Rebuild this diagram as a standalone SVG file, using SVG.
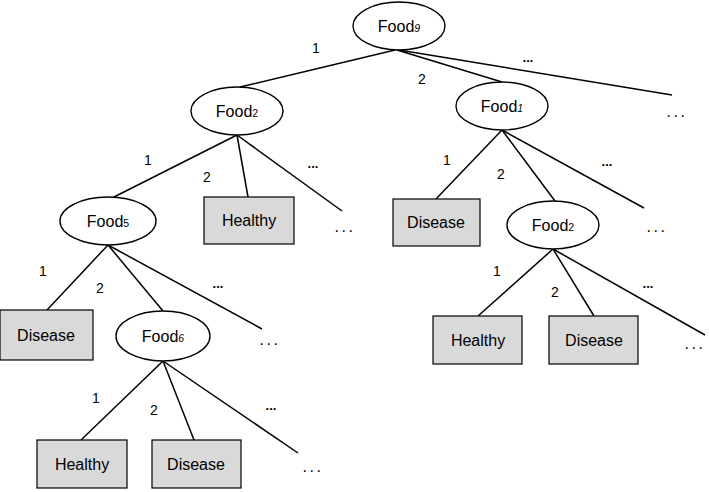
<svg xmlns="http://www.w3.org/2000/svg" width="709" height="492" viewBox="0 0 709 492">
<style>
text{font-family:"Liberation Sans",Arial,sans-serif;fill:#000}
.n{font-size:16px;text-anchor:middle}
.s{font-size:10.5px}
.i{font-style:italic}
.lb{font-size:14px;text-anchor:middle}
.dd{font-size:13px;font-weight:bold;text-anchor:middle}
.dots{font-size:16px;text-anchor:middle;letter-spacing:2.5px}
ellipse{fill:#fff;stroke:#000;stroke-width:1.4}
rect{fill:#d9d9d9;stroke:#000;stroke-width:1.2}
line{stroke:#000;stroke-width:1.5}
</style>
<g id="connectors">
<line x1="395" y1="50" x2="240" y2="87"/>
<line x1="397" y1="50" x2="502" y2="82"/>
<line x1="399" y1="50" x2="672" y2="95"/>
<line x1="237" y1="135" x2="112" y2="198"/>
<line x1="237" y1="135" x2="248" y2="197"/>
<line x1="237" y1="135" x2="342" y2="211"/>
<line x1="108" y1="245" x2="47" y2="310"/>
<line x1="108" y1="245" x2="163" y2="311"/>
<line x1="108" y1="245" x2="262" y2="329"/>
<line x1="163" y1="361" x2="81" y2="440"/>
<line x1="163" y1="361" x2="194" y2="440"/>
<line x1="163" y1="361" x2="298" y2="453"/>
<line x1="502" y1="130" x2="436" y2="199"/>
<line x1="502" y1="130" x2="555" y2="201"/>
<line x1="502" y1="130" x2="644" y2="208"/>
<line x1="553" y1="249" x2="478" y2="316"/>
<line x1="553" y1="249" x2="594" y2="316"/>
<line x1="553" y1="249" x2="705" y2="335"/>
</g>
<g id="edge-labels">
<text class="lb" x="316" y="53">1</text>
<text class="lb" x="422" y="84">2</text>
<text class="dd" x="528" y="62">...</text>
<text class="dots" x="677" y="117">...</text>
<text class="lb" x="148" y="165">1</text>
<text class="lb" x="207" y="182">2</text>
<text class="dd" x="313" y="168">...</text>
<text class="dots" x="345" y="232">...</text>
<text class="lb" x="43" y="276">1</text>
<text class="lb" x="100" y="293">2</text>
<text class="dd" x="218" y="288">...</text>
<text class="dots" x="270" y="345">...</text>
<text class="lb" x="96" y="403">1</text>
<text class="lb" x="154" y="415">2</text>
<text class="dd" x="271" y="410">...</text>
<text class="dots" x="313" y="472">...</text>
<text class="lb" x="447" y="165">1</text>
<text class="lb" x="501" y="179">2</text>
<text class="dd" x="607" y="166">...</text>
<text class="dots" x="657" y="232">...</text>
<text class="lb" x="497" y="276">1</text>
<text class="lb" x="555" y="297">2</text>
<text class="dd" x="648" y="288">...</text>
<text class="dots" x="695" y="349">...</text>
</g>
<g id="food9"><ellipse cx="399" cy="26" rx="46" ry="24"/><text class="n" x="399" y="32">Food<tspan class="s i">9</tspan></text></g>
<g id="food2-left"><ellipse cx="237" cy="111" rx="46" ry="24"/><text class="n" x="237" y="117">Food<tspan class="s">2</tspan></text></g>
<g id="food1"><ellipse cx="502" cy="106" rx="46" ry="24"/><text class="n" x="502" y="112">Food<tspan class="s i">1</tspan></text></g>
<g id="food5"><ellipse cx="108" cy="221" rx="48" ry="24"/><text class="n" x="108" y="227">Food<tspan class="s">5</tspan></text></g>
<g id="healthy-1"><rect x="204" y="197" width="90" height="47"/><text class="n" x="249" y="226">Healthy</text></g>
<g id="disease-1"><rect x="0" y="310" width="93" height="50"/><text class="n" x="46" y="341">Disease</text></g>
<g id="food6"><ellipse cx="163" cy="336" rx="47" ry="25"/><text class="n" x="163" y="342">Food<tspan class="s i">6</tspan></text></g>
<g id="healthy-2"><rect x="37" y="440" width="90" height="48"/><text class="n" x="82" y="470">Healthy</text></g>
<g id="disease-2"><rect x="152" y="440" width="89" height="48"/><text class="n" x="196" y="470">Disease</text></g>
<g id="disease-3"><rect x="393" y="199" width="87" height="47"/><text class="n" x="436" y="228">Disease</text></g>
<g id="food2-right"><ellipse cx="553" cy="225" rx="46" ry="24"/><text class="n" x="553" y="231">Food<tspan class="s">2</tspan></text></g>
<g id="healthy-3"><rect x="433" y="316" width="89" height="48"/><text class="n" x="478" y="346">Healthy</text></g>
<g id="disease-4"><rect x="549" y="316" width="89" height="48"/><text class="n" x="594" y="346">Disease</text></g>
</svg>
